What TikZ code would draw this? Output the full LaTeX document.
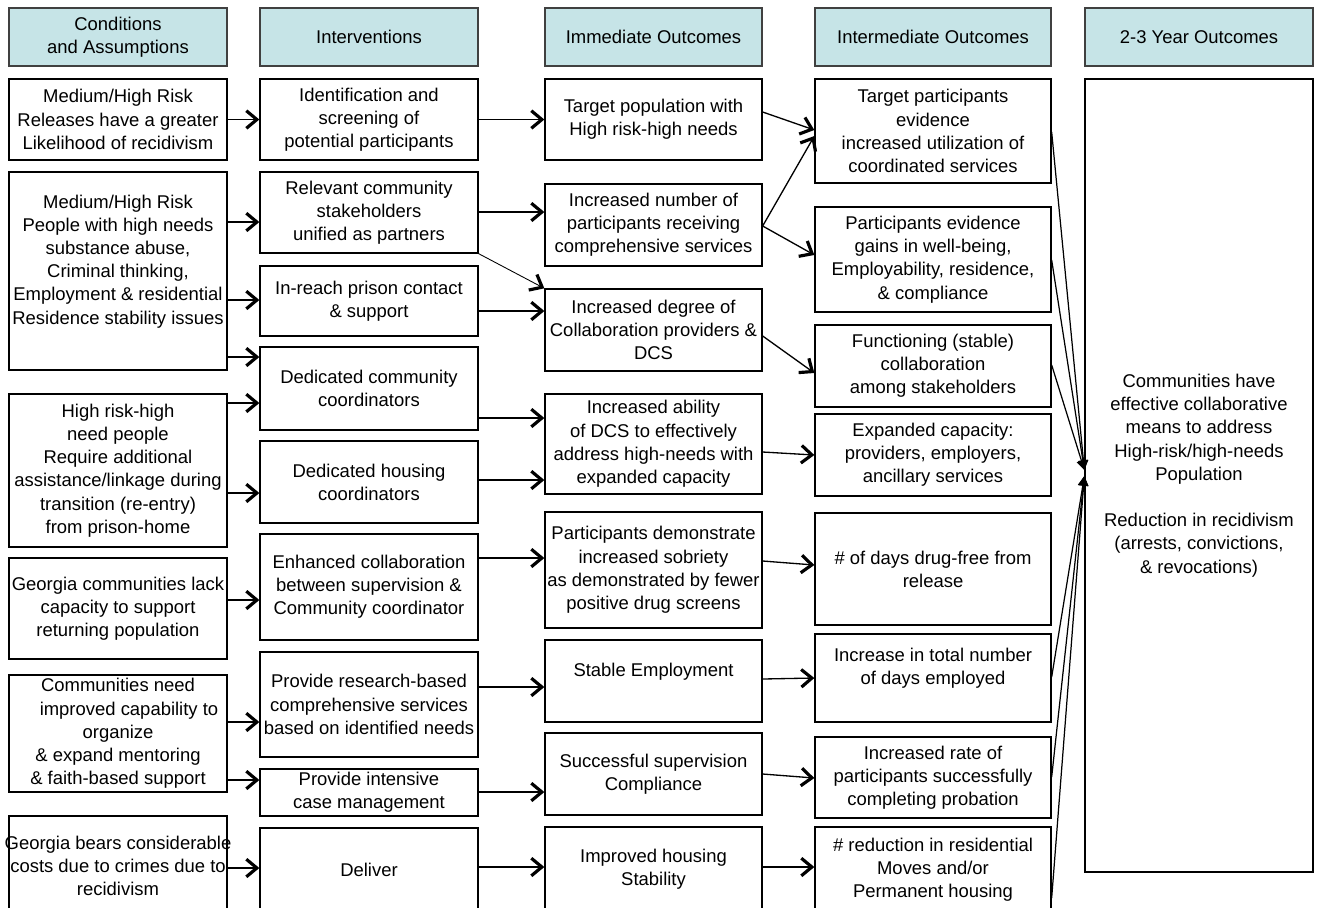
\documentclass[tikz,border=0pt]{standalone}
\usepackage{fontspec}
\setmainfont{Liberation Sans}
\usetikzlibrary{arrows.meta}
\definecolor{headfill}{RGB}{198,228,231}
\definecolor{headline}{RGB}{64,64,64}
\begin{document}
\begin{tikzpicture}[x=0.2mm, y=-0.2mm,
  font=\fontsize{10.5}{13.2}\selectfont,
  box/.style={draw, line width=0.75pt, align=center, inner sep=0pt},
  head/.style={box, draw=headline, fill=headfill, minimum height=11.6mm},
  colA/.style={box, minimum width=43.6mm},
  colC/.style={box, minimum width=43.4mm},
  colD/.style={box, minimum width=47.2mm},
  arr/.style={line width=0.75pt, -{Straight Barb[length=6pt,width=10pt,line width=1.8pt]}},
  hub/.style={line width=0.7pt, -{Triangle[length=5.5pt,width=5.5pt]}}]
\useasboundingbox (0,0) rectangle (1320,907);
\clip (0,0) rectangle (1320,907);

\node[head, minimum width=43.6mm] (h1) at (118,37) {Conditions\\and Assumptions};
\node[head, minimum width=43.6mm] (h2) at (369,37) {Interventions};
\node[head, minimum width=43.4mm] (h3) at (653.5,37) {Immediate Outcomes};
\node[head, minimum width=47.2mm] (h4) at (933,37) {Intermediate Outcomes};
\node[head, minimum width=45.6mm] (h5) at (1199,37) {2-3 Year Outcomes};

\node[colA, minimum height=16.2mm] (c1) at (118,119.5) {Medium/High Risk\\Releases have a greater\\Likelihood of recidivism};
\node[colA, minimum height=39.6mm] (c2) at (118,271) {Medium/High Risk\\People with high needs\\substance abuse,\\Criminal thinking,\\\makebox[0pt]{Employment \& residential}\\Residence stability issues\\~};
\node[colA, minimum height=30.6mm] (c3) at (118,470.5) {High risk-high\\need people\\Require additional\\\makebox[0pt]{assistance/linkage during}\\transition (re-entry)\\from prison-home};
\node[colA, minimum height=20.2mm] (c4) at (118,608.5) {Georgia communities lack\\capacity to support\\returning population};
\node[colA, minimum height=23.4mm] (c5) at (118,733.5) {Communities need\\\hspace*{0.44cm}improved capability to\hspace*{-0.44cm}\\organize\\\& expand mentoring\\\& faith-based support};
\node[colA, minimum height=20mm] (c6) at (118,866) {\makebox[0pt]{Georgia bears considerable}\\\makebox[0pt]{costs due to crimes due to}\\recidivism};

\node[colA, minimum height=16.2mm] (i1) at (369,119.5) {Identification and\\screening of\\potential participants};
\node[colA, minimum height=16.2mm] (i2) at (369,212.5) {Relevant community\\stakeholders\\unified as partners};
\node[colA, minimum height=14mm] (i3) at (369,301) {In-reach prison contact\\\& support};
\node[colA, minimum height=16.6mm] (i4) at (369,388.5) {Dedicated community\\coordinators};
\node[colA, minimum height=16.4mm] (i5) at (369,482) {Dedicated housing\\coordinators};
\node[colA, minimum height=21.2mm] (i6) at (369,587) {Enhanced collaboration\\between supervision \&\\Community coordinator};
\node[colA, minimum height=21mm] (i7) at (369,704.5) {Provide research-based\\comprehensive services\\\makebox[0pt]{based on identified needs}};
\node[colA, minimum height=9.4mm] (i8) at (369,792.5) {Provide intensive\\case management};
\node[colA, minimum height=16.8mm] (i9) at (369,870) {Deliver};

\node[colC, minimum height=16.2mm] (m1) at (653.5,119.5) {Target population with\\High risk-high needs};
\node[colC, minimum height=16.4mm] (m2) at (653.5,225) {Increased number of\\participants receiving\\comprehensive services};
\node[colC, minimum height=16.4mm] (m3) at (653.5,330) {Increased degree of\\Collaboration providers \&\\DCS};
\node[colC, minimum height=20mm] (m4) at (653.5,444) {Increased ability\\of DCS to effectively\\address high-needs with\\expanded capacity};
\node[colC, minimum height=23.2mm] (m5) at (653.5,570) {\makebox[0pt]{Participants demonstrate}\\increased sobriety\\\makebox[0pt]{as demonstrated by fewer}\\positive drug screens};
\node[colC, minimum height=16.4mm] (m6) at (653.5,681) {Stable Employment\\~};
\node[colC, minimum height=16.4mm] (m7) at (653.5,774) {Successful supervision\\Compliance};
\node[colC, minimum height=16.8mm] (m8) at (653.5,869) {Improved housing\\Stability};

\node[colD, minimum height=20.8mm] (o1) at (933,131) {Target participants\\evidence\\increased utilization of\\coordinated services};
\node[colD, minimum height=21mm] (o2) at (933,259.5) {Participants evidence\\gains in well-being,\\Employability, residence,\\\& compliance};
\node[colD, minimum height=16.4mm] (o3) at (933,366) {Functioning (stable)\\collaboration\\among stakeholders};
\node[colD, minimum height=16.4mm] (o4) at (933,455) {Expanded capacity:\\providers, employers,\\ancillary services};
\node[colD, minimum height=22.4mm] (o5) at (933,569) {\# of days drug-free from\\release};
\node[colD, minimum height=17.6mm] (o6) at (933,678) {Increase in total number\\of days employed\\~};
\node[colD, minimum height=16.2mm] (o7) at (933,777.5) {Increased rate of\\participants successfully\\completing probation};
\node[colD, minimum height=17.2mm] (o8) at (933,870) {\# reduction in residential\\Moves and/or\\Permanent housing};

\node[box, minimum width=45.6mm, minimum height=158.6mm] (g) at (1199,475.5) {Communities have\\effective collaborative\\means to address\\High-risk/high-needs\\Population\\~\\Reduction in recidivism\\(arrests, convictions,\\\& revocations)};

\draw[arr] (c1) -- (i1);
\draw[arr] (c2.east |- 0,222) -- (i2.west |- 0,222);
\draw[arr] (c2.east |- 0,300) -- (i3.west |- 0,300);
\draw[arr] (c2.east |- 0,357) -- (i4.west |- 0,357);
\draw[arr] (c3.east |- 0,403) -- (i4.west |- 0,403);
\draw[arr] (c3.east |- 0,493) -- (i5.west |- 0,493);
\draw[arr] (c4.east |- 0,600) -- (i6.west |- 0,600);
\draw[arr] (c5.east |- 0,722) -- (i7.west |- 0,722);
\draw[arr] (c5.east |- 0,780) -- (i8.west |- 0,780);
\draw[arr] (c6.east |- 0,868) -- (i9.west |- 0,868);

\draw[arr] (i1) -- (m1);
\draw[arr] (i2.east |- 0,212) -- (m2.west |- 0,212);
\draw[arr, line width=0.5pt] (i2.south east) -- (m3.north west);
\draw[arr] (i3.east |- 0,311) -- (m3.west |- 0,311);
\draw[arr] (i4.east |- 0,418) -- (m4.west |- 0,418);
\draw[arr] (i5.east |- 0,480) -- (m4.west |- 0,480);
\draw[arr] (i6.east |- 0,558) -- (m5.west |- 0,558);
\draw[arr] (i7.east |- 0,687) -- (m6.west |- 0,687);
\draw[arr] (i8.east |- 0,792) -- (m7.west |- 0,792);
\draw[arr] (i9.east |- 0,867) -- (m8.west |- 0,867);

\draw[arr] (m1.east |- 0,112) -- (o1.west |- 0,130);
\draw[arr] (m2.east |- 0,226) -- (o1.west |- 0,136);
\draw[arr] (m2.east |- 0,226) -- (o2.west |- 0,255);
\draw[arr] (m3.east |- 0,336) -- (o3.west |- 0,373);
\draw[arr] (m4.east |- 0,452) -- (o4.west |- 0,455);
\draw[arr] (m5.east |- 0,561) -- (o5.west |- 0,565);
\draw[arr] (m6.east |- 0,679) -- (o6.west |- 0,678);
\draw[arr] (m7.east |- 0,774) -- (o7.west |- 0,778);
\draw[arr] (m8.east |- 0,867) -- (o8.west |- 0,867);

\coordinate (gdown) at (g.west |- 0,470);
\coordinate (gup) at (g.west |- 0,476);
\foreach \n/\y in {o1/132,o2/260,o3/365}
  \draw[hub] (\n.east |- 0,\y) -- (gdown);
\foreach \n/\y in {o6/677,o7/777,o8/898}
  \draw[hub] (\n.east |- 0,\y) -- (gup);
\end{tikzpicture}
\end{document}
